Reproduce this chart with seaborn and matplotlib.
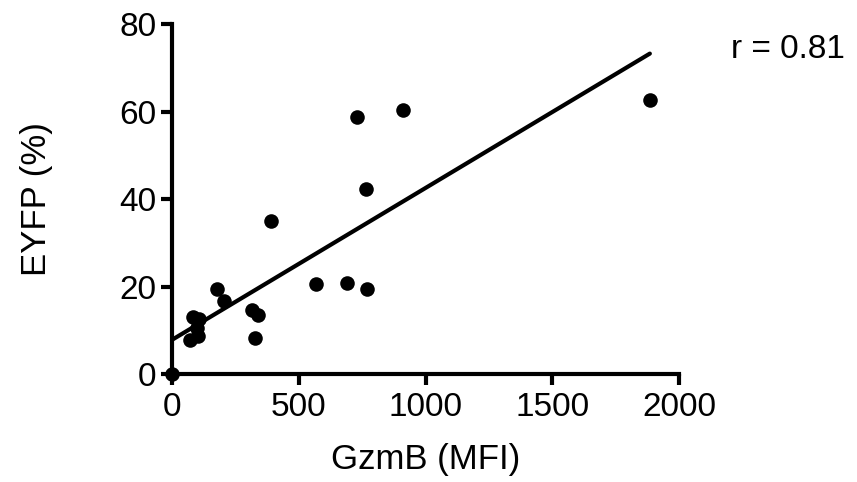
import matplotlib
matplotlib.use("Agg")
import matplotlib.pyplot as plt
import seaborn as sns
import pandas as pd

# valores
gzmb = [0, 71, 104, 97, 84, 108, 176, 205, 314, 327, 340, 391, 567, 692, 731, 765, 771, 910, 1885]
eyfp = [0, 7.8, 8.7, 10.5, 13.0, 12.5, 19.4, 16.8, 14.6, 8.2, 13.5, 35.0, 20.6, 20.9, 58.7, 42.4, 19.4, 60.3, 62.6]
x_ticks = [0, 500, 1000, 1500, 2000]
y_ticks = [0, 20, 40, 60, 80]
r_text = "r = 0.81"

df = pd.DataFrame({"GzmB": gzmb, "EYFP": eyfp})

sns.set_theme(style="white")
plt.rcParams["font.family"] = ["Liberation Sans", "DejaVu Sans"]
plt.rcParams["text.color"] = "black"
plt.rcParams["axes.labelcolor"] = "black"

fig = plt.figure(figsize=(8.57, 4.82), dpi=100)
ax = fig.add_axes([0.2007, 0.224, 0.5916, 0.726])

sns.regplot(data=df, x="GzmB", y="EYFP", ci=None, ax=ax, truncate=True,
            scatter_kws={"s": 110, "color": "black", "alpha": 1, "clip_on": False,
                         "zorder": 3, "linewidths": 0},
            line_kws={"color": "black", "lw": 3})

ax.set_xlim(0, 2000)
ax.set_ylim(0, 80)
ax.set_xticks(x_ticks)
ax.set_yticks(y_ticks)
ax.tick_params(axis="both", direction="out", length=8, width=3, labelsize=24,
               bottom=True, left=True, colors="black")
ax.tick_params(axis="y", pad=3)
ax.tick_params(axis="x", pad=5)
for s in ["top", "right"]:
    ax.spines[s].set_visible(False)
for s in ["left", "bottom"]:
    ax.spines[s].set_linewidth(3)
    ax.spines[s].set_color("black")

ax.set_xlabel("GzmB (MFI)", fontsize=25, labelpad=14)
ax.set_ylabel("EYFP (%)", fontsize=25, labelpad=48)

fig.text(0.919, 0.897, r_text, fontsize=24, ha="center", va="center")

fig.savefig("out.png", dpi=100)
